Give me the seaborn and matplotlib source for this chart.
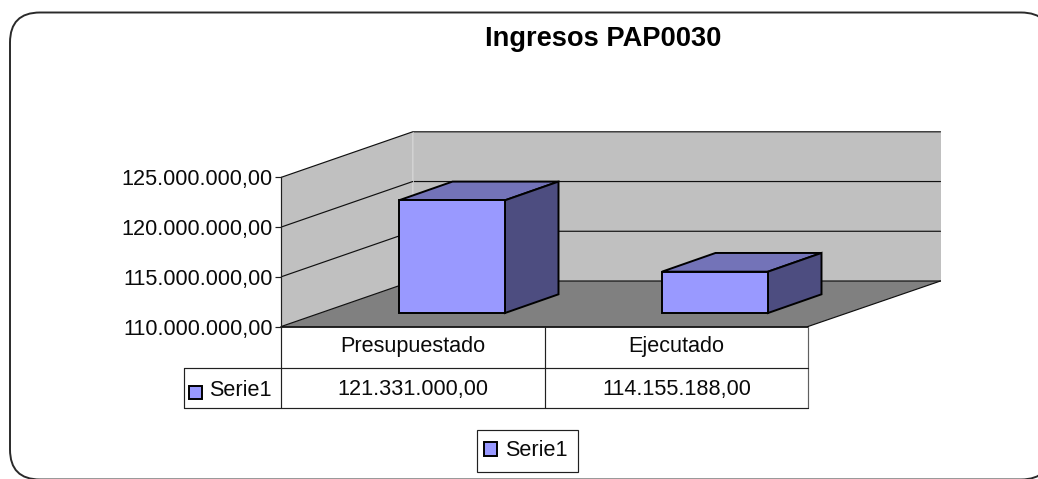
import matplotlib
matplotlib.use("Agg")
import matplotlib.pyplot as plt
import seaborn as sns
import pandas as pd
from matplotlib.patches import FancyBboxPatch, Polygon, Rectangle, Patch
from matplotlib.transforms import IdentityTransform

# ---- data ----
categories = ["Presupuestado", "Ejecutado"]
values = [121331000.00, 114155188.00]
series_name = "Serie1"
axis_ticks = [110000000, 115000000, 120000000, 125000000]
title = "Ingresos PAP0030"


def es_fmt(v):
    return f"{v:,.2f}".replace(",", "X").replace(".", ",").replace("X", ".")


W, H = 1038, 479
sns.set_theme(style="white")
plt.rcParams["font.family"] = ["Liberation Sans", "DejaVu Sans"]
fig = plt.figure(figsize=(W / 100, H / 100), dpi=100, facecolor="white")


def axes_px(x0, y0, x1, y1, **kw):
    """Axes from pixel box (y measured from the top of the image)."""
    return fig.add_axes([x0 / W, 1 - y1 / H, (x1 - x0) / W, (y1 - y0) / H], **kw)


BAR_FACE, TOP_FACE, SIDE_FACE = "#9999FF", "#7373B8", "#4D4D80"
WALL, FLOOR = "#C0C0C0", "#808080"
EDGE_W = 1.4
THIN = 0.85
FS = 15.6
TXT = "#0A0A0A"

# ---- scenery in pixel coordinates ----
bg = axes_px(0, 0, W, H)
bg.set_xlim(0, W)
bg.set_ylim(H, 0)
bg.axis("off")
bg.set_zorder(0)

bg.add_patch(FancyBboxPatch((10, 12.5), 1041, 467, boxstyle="round,pad=0,rounding_size=30",
                            fc="white", ec="#2A2A2A", lw=1.4, clip_on=False))

X_L, X_B, X_R, X_F = 281.3, 412.7, 940.5, 808.0
Y0, Y_TOP = 326.5, 177.3
DY = Y0 - 281.0
px_per_unit = (Y0 - Y_TOP) / (axis_ticks[-1] - axis_ticks[0])


def wall_y(v):
    return Y0 - (v - axis_ticks[0]) * px_per_unit


bg.add_patch(Polygon([(X_L, Y0), (X_L, Y_TOP), (X_B, Y_TOP - DY), (X_B, Y0 - DY)], fc=WALL, ec="none"))
bg.add_patch(Polygon([(X_B, Y_TOP - DY), (X_R, Y_TOP - DY), (X_R, Y0 - DY), (X_B, Y0 - DY)], fc=WALL, ec="none"))
bg.add_patch(Polygon([(X_L, Y0), (X_B, Y0 - DY), (X_R, Y0 - DY), (X_F, Y0)], fc=FLOOR, ec="none"))
for v in axis_ticks:
    y = wall_y(v)
    bg.plot([X_L, X_B, X_R], [y, y - DY, y - DY], color="#101010", lw=THIN, solid_joinstyle="miter")
bg.plot([X_R, X_F], [Y0 - DY, Y0], color="#101010", lw=THIN)
bg.plot([X_L, X_F], [Y0, Y0], color="black", lw=1.2)
bg.plot([X_B, X_B], [Y_TOP - DY, Y0 - DY], color="#CCCCCC", lw=0.6)

# ---- data table ----
X_S, X_M = 184.0, 545.0
Y_H, Y_B = 368.0, 408.0
cell_x = [(X_L + X_M) / 2, (X_M + X_F) / 2]
for x in (X_L, X_M, X_F):
    bg.plot([x, x], [Y0, Y_B], color="#202020" if x != X_F else "#606060", lw=THIN)
bg.plot([X_S, X_F], [Y_H, Y_H], color="#202020", lw=THIN)
bg.plot([X_S, X_F], [Y_B, Y_B], color="#202020", lw=THIN)
bg.plot([X_S, X_S], [Y_H, Y_B], color="#202020", lw=THIN)
for cx, cat, val in zip(cell_x, categories, values):
    bg.text(cx, (Y0 + Y_H) / 2 - 0.5, cat, ha="center", va="center", fontsize=FS, color=TXT)
    bg.text(cx, (Y_H + Y_B) / 2 + 1.5, es_fmt(val), ha="center", va="center", fontsize=FS, color=TXT)
bg.add_patch(Rectangle((189.2, 385.8), 12.5, 12.8, fc=BAR_FACE, ec="black", lw=EDGE_W))
bg.text(209.5, (Y_H + Y_B) / 2 + 2.5, series_name, ha="left", va="center", fontsize=FS, color=TXT)

# ---- title ----
bg.text(603, 38.5, title, ha="center", va="center", fontsize=19.6, fontweight="bold", color="black")

# ---- legend box ----
bg.add_patch(Rectangle((477, 430.3), 101, 42, fc="white", ec="#202020", lw=THIN))

# ---- value axis with real ticks ----
ax_val = axes_px(X_L, Y_TOP, X_L + 1, Y0)
ax_val.patch.set_alpha(0)
ax_val.set_ylim(axis_ticks[0], axis_ticks[-1])
ax_val.set_yticks(axis_ticks)
ax_val.set_yticklabels([es_fmt(v) for v in axis_ticks], fontsize=FS, color=TXT)
ax_val.set_xticks([])
for s in ("top", "right", "bottom"):
    ax_val.spines[s].set_visible(False)
ax_val.spines["left"].set_linewidth(THIN)
ax_val.spines["left"].set_color("#202020")
ax_val.tick_params(axis="y", left=True, length=4.3, width=THIN, color="#202020", pad=2.0)

# ---- bars ----
BAR_BASE_Y = 313.0
CAT_STEP = 263.0
BAR_W = 106.0 / CAT_STEP
X_C0 = 452.0
ax = axes_px(X_C0 - CAT_STEP / 2, BAR_BASE_Y - (Y0 - Y_TOP), X_C0 + CAT_STEP * 1.5, BAR_BASE_Y)
ax.patch.set_alpha(0)
df = pd.DataFrame({"categoria": categories, "valor": values})
sns.barplot(data=df, x="categoria", y="valor", ax=ax, color=BAR_FACE, saturation=1,
            width=BAR_W, edgecolor="black", linewidth=EDGE_W, zorder=3)
ax.set_xlim(-0.5, 1.5)
ax.set_ylim(axis_ticks[0], axis_ticks[-1])
ax.axis("off")

DEPTH_X, DEPTH_Y = 53.5, 18.7
fig.canvas.draw()
to_disp = ax.transData.transform
for p in list(ax.patches):
    x0, top = p.get_x(), p.get_height()
    x1 = x0 + p.get_width()
    p.set_y(axis_ticks[0])
    p.set_height(top - axis_ticks[0])
    p.set_clip_on(False)
    p.set_joinstyle("miter")
    (dx0, dtop), (dx1, dbase) = to_disp([(x0, top), (x1, axis_ticks[0])])
    top_face = [(dx0, dtop), (dx1, dtop), (dx1 + DEPTH_X, dtop + DEPTH_Y), (dx0 + DEPTH_X, dtop + DEPTH_Y)]
    side_face = [(dx1, dbase), (dx1, dtop), (dx1 + DEPTH_X, dtop + DEPTH_Y), (dx1 + DEPTH_X, dbase + DEPTH_Y)]
    for pts, col in ((top_face, TOP_FACE), (side_face, SIDE_FACE)):
        ax.add_patch(Polygon(pts, closed=True, fc=col, ec="black", lw=EDGE_W, joinstyle="miter",
                             transform=IdentityTransform(), clip_on=False, zorder=2))

# ---- legend ----
leg = fig.legend(handles=[Patch(fc=BAR_FACE, ec="black", lw=EDGE_W, label=series_name)],
                 loc="center left", bbox_to_anchor=(484 / W, 1 - 451 / H), fontsize=FS,
                 frameon=False, handlelength=0.58, handleheight=0.58,
                 handletextpad=0.4, borderpad=0, borderaxespad=0)
for t in leg.get_texts():
    t.set_color(TXT)

fig.savefig("out.png", dpi=100)
